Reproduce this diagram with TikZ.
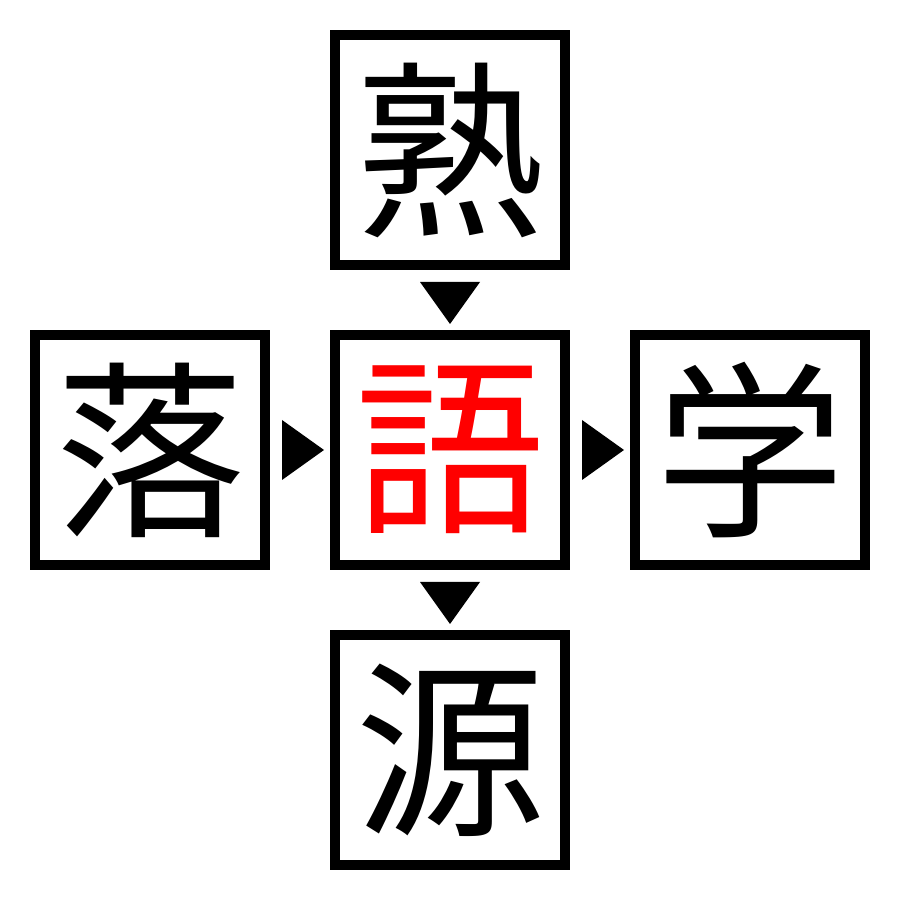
\documentclass[tikz,border=0pt]{standalone}
\usepackage{fontspec}
\usepackage{tikz}
\usetikzlibrary{positioning,calc}
\newfontfamily\cjk{Noto Sans CJK JP}

\tikzset{
	kanji/.style={draw, line width=0.1cm, minimum size=2.3cm, inner sep=0pt,
		font=\cjk\fontsize{54}{54}\selectfont},
	pointer/.style={fill=black}
}

\begin{document}
\begin{tikzpicture}

	\useasboundingbox (0,0) rectangle (9,9);
	\node[kanji, text=red] (go) at (4.5,4.5) {語};
	\node[kanji] (juku) at (4.5,7.5) {熟};
	\node[kanji] (raku) at (1.5,4.5) {落};
	\node[kanji] (gaku) at (7.5,4.5) {学};
	\node[kanji] (gen) at (4.5,1.5) {源};

	% downward pointers
	\fill[pointer] ($(juku.south)+(-0.3,-0.12)$) -- ($(juku.south)+(0.3,-0.12)$) -- ($(go.north)+(0,0.06)$) -- cycle;
	\fill[pointer] ($(go.south)+(-0.3,-0.12)$) -- ($(go.south)+(0.3,-0.12)$) -- ($(gen.north)+(0,0.06)$) -- cycle;
	% rightward pointers
	\fill[pointer] ($(raku.east)+(0.12,0.3)$) -- ($(raku.east)+(0.12,-0.3)$) -- ($(go.west)+(-0.06,0)$) -- cycle;
	\fill[pointer] ($(go.east)+(0.12,0.3)$) -- ($(go.east)+(0.12,-0.3)$) -- ($(gaku.west)+(-0.06,0)$) -- cycle;

\end{tikzpicture}
\end{document}
